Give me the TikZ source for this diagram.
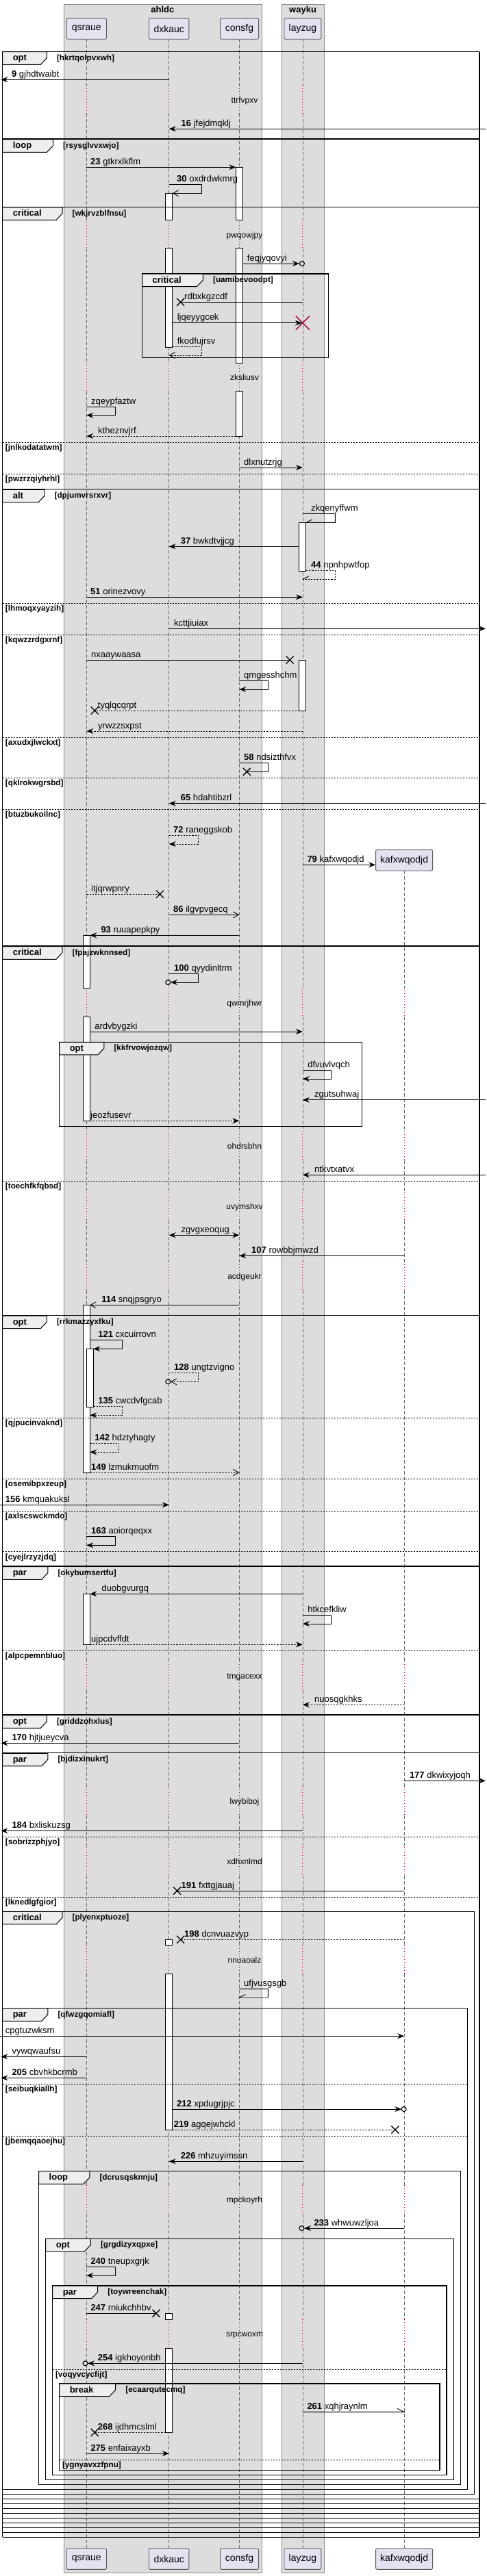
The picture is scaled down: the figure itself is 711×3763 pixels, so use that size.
\documentclass[tikz,border=0pt]{standalone}
\usepackage{fontspec}
\setmainfont{Liberation Sans}
\usetikzlibrary{arrows.meta}
\definecolor{grpbg}{HTML}{DDDDDD}
\definecolor{grpbd}{HTML}{8A8A8A}
\definecolor{partbg}{HTML}{E2E2F0}
\definecolor{partbd}{HTML}{5A5A5A}
\definecolor{delayc}{HTML}{A80036}
\definecolor{tabbg}{HTML}{EEEEEE}
\definecolor{lifec}{HTML}{6A6A6A}
\def\xq{126.3}\def\xd{246.7}\def\xc{349.3}\def\xl{441.9}\def\xk{590.1}
\tikzset{
  part/.style={draw=partbd, fill=partbg, line width=0.9pt, rounded corners=1.5pt, minimum height=30.6pt, inner sep=0pt, font=\fontsize{14}{16}\selectfont},
  msgl/.style={anchor=base west, inner sep=0pt, font=\fontsize{13}{15}\selectfont},
  condl/.style={anchor=base west, inner sep=0pt, font=\fontsize{11.7}{13}\selectfont\bfseries},
  tabl/.style={anchor=base west, inner sep=0pt, font=\fontsize{13}{15}\selectfont\bfseries},
  delayl/.style={anchor=base, inner sep=0pt, font=\fontsize{12}{14}\selectfont},
  plain/.style={line width=0.9pt},
  sync/.style={plain, -{Stealth[length=10pt,width=8pt,inset=3.5pt]}},
  ret/.style={sync, dash pattern=on 2.2pt off 2pt},
  opn/.style={plain, -{Straight Barb[length=8pt,width=9pt]}},
  dsh/.style={plain, dash pattern=on 2.2pt off 2pt},
  life/.style={lifec, line width=0.8pt, dash pattern=on 5pt off 3pt},
  dly/.style={delayc, line width=0.9pt, dash pattern=on 1pt off 3pt},
  act/.style={draw=black, fill=white, line width=0.9pt},
  frm/.style={line width=1.5pt},
  sep/.style={line width=0.8pt, dash pattern=on 2pt off 2pt},
}
\newcommand\xmark[2]{\draw[line width=1.3pt] (#1-5.5,#2-5.5) -- (#1+5.5,#2+5.5) (#1-5.5,#2+5.5) -- (#1+5.5,#2-5.5);}
\newcommand\omark[2]{\draw[line width=1.1pt] (#1,#2) circle[radius=3.5pt];}
\newcommand\grptab[5]{%
  \draw[line width=1pt, fill=tabbg] (#1,#2) -- (#3,#2) -- (#3,#2+9) -- (#3-9,#2+18.6) -- (#1,#2+18.6) -- cycle;
  \node[tabl] at (#1+15,#2+13) {#4};
  \node[condl] at (#3+14.5,#2+12.5) {#5};}
\newcommand\sepl[4]{% x0, x1, y, label
  \draw[sep] (#1,#3) -- (#2,#3);
  \node[condl] at (#1+4.2,#3+11.5) {#4};}
\begin{document}
\begin{tikzpicture}[x=1pt,y=-1pt]
\useasboundingbox (0,0) rectangle (711,3763);
% group boxes
\draw[grpbd, fill=grpbg] (93,6) rectangle (381.7,3758.3);
\draw[grpbd, fill=grpbg] (410.9,6) rectangle (473.4,3758.3);
\node[anchor=base, font=\fontsize{13}{15}\selectfont\bfseries] (tahldc) at (237.4,19) {ahldc};
\node[anchor=base, font=\fontsize{13}{15}\selectfont\bfseries] (twayku) at (442.1,19) {wayku};
% lifelines
\foreach \a/\b in {57.3/124.5, 166/321, 362.7/530, 571.7/1443.3, 1485/1653, 1695/1741, 1783/1843, 1885/2427, 2469/2610, 2652/2698, 2740/2841.7, 2883.3/3192, 3234/3388, 3430/3722.7}{
  \foreach \x in {\xq,\xd,\xc,\xl}{\draw[life] (\x,\a) -- (\x,\b);}}
\foreach \a/\b in {1272.3/1443.3, 1485/1653, 1695/1741, 1783/1843, 1885/2427, 2469/2610, 2652/2698, 2740/2841.7, 2883.3/3192, 3234/3388, 3430/3722.7}{
  \draw[life] (\xk,\a) -- (\xk,\b);}
\foreach \a/\b in {124.5/166, 321/362.7, 530/571.7}{
  \foreach \x in {\xq,\xd,\xc,\xl}{\draw[dly] (\x,\a) -- (\x,\b);}}
\foreach \a/\b in {1443.3/1485, 1653/1695, 1741/1783, 1843/1885, 2427/2469, 2610/2652, 2698/2740, 2841.7/2883.3, 3192/3234, 3388/3430}{
  \foreach \x in {\xq,\xd,\xc,\xl,\xk}{\draw[dly] (\x,\a) -- (\x,\b);}}
% delay texts
\node[delayl] (d1) at (357,150) {ttrfvpxv};
\node[delayl] (d2) at (357,347.3) {pwqowjpy};
\node[delayl] (d3) at (357,555) {zksliusv};
\node[delayl] (d4) at (357,1469.7) {qwmrjhwr};
\node[delayl] (d5) at (357,1678.3) {ohdrsbhn};
\node[delayl] (d6) at (357,1766.3) {uvymshxv};
\node[delayl] (d7) at (357,1868.3) {acdgeukr};
\node[delayl] (d8) at (357,2452.3) {tmgacexx};
\node[delayl] (d9) at (357,2635.3) {lwybiboj};
\node[delayl] (d10) at (357,2723.3) {xdhxnlmd};
\node[delayl] (d11) at (357,2867) {nnuaoalz};
\node[delayl] (d12) at (357,3217.3) {mpckoyrh};
\node[delayl] (d13) at (357,3413.3) {srpcwoxm};
% participants
\node[part, minimum width=58.4pt] (pq) at (\xq,42) {qsraue};
\node[part, minimum width=58.4pt] (pd) at (\xd,42) {dxkauc};
\node[part, minimum width=56.1pt] (pc) at (349.5,42) {consfg};
\node[part, minimum width=53.8pt] (pl) at (\xl,42) {layzug};
\node[part, minimum width=83pt] (pk) at (\xk,1256.7) {kafxwqodjd};
\node[part, minimum width=58.4pt] (bq) at (\xq,3738) {qsraue};
\node[part, minimum width=58.4pt] (bd) at (\xd,3738) {dxkauc};
\node[part, minimum width=56.1pt] (bc) at (349.5,3738) {consfg};
\node[part, minimum width=53.8pt] (bl) at (\xl,3738) {layzug};
\node[part, minimum width=83pt] (bk) at (\xk,3738) {kafxwqodjd};
% activations
\foreach \x/\a/\b in {\xc/244.3/321, \xc/362.7/530, \xc/571.7/637, \xd/282.3/321, \xd/362.7/507.3, \xl/763.3/834.3, \xl/964/1038, \xq/1366.3/1443.3, \xq/1485/1637.3, \xq/1906.3/2151, 131.3/1970.3/2055.3, \xq/2328.3/2402.3, \xd/2833.3/2841.7, \xd/2883.3/3111, \xd/3379.3/3388, \xd/3430/3553.3}{
  \draw[act] (\x-5,\a) rectangle (\x+5,\b);}
% ===== frames =====
\draw[frm] (3.6,75.7) -- (3.6,3706.3);
\draw[frm] (700,75.7) -- (700,3706.3);
\foreach \y in {75.7, 203, 302.3, 714.5, 1382, 1921.3, 2288, 2505, 2560.7, 3650.3, 3657.3, 3664.3, 3671.3, 3678.3, 3685.3, 3692.3, 3699.3, 3706.3}{
  \draw[frm] (3.6,\y) -- (700,\y);}
\draw[frm] (3.6,2792.3) rectangle (692.3,3643.3);
\draw[frm] (3.6,2933.7) rectangle (682.7,3636.3);
\draw[frm] (56.5,3171.7) rectangle (672.7,3629.3);
\draw[frm] (66.6,3270.3) rectangle (662.6,3622.3);
\draw[frm] (76.6,3339) rectangle (652.1,3615.3);
\draw[frm] (86.6,3482) rectangle (642,3608.7);
\draw[frm] (207.5,400) rectangle (479.3,522.3);
\draw[frm] (86.6,1522.3) rectangle (528.5,1645.3);
% separators
\sepl{3.6}{700}{646.3}{[jnlkodatatwm]}
\sepl{3.6}{700}{692.3}{[pwzrzqiyhrhl]}
\sepl{3.6}{700}{881.3}{[lhmoqxyayzih]}
\sepl{3.6}{700}{927}{[kqwzzrdgxrnf]}
\sepl{3.6}{700}{1077}{[axudxjlwckxt]}
\sepl{3.6}{700}{1136.3}{[qklrokwgrsbd]}
\sepl{3.6}{700}{1182.3}{[btuzbukoilnc]}
\sepl{3.6}{700}{1725}{[toechfkfqbsd]}
\sepl{3.6}{700}{2071.3}{[qjpucinvaknd]}
\sepl{3.6}{700}{2160}{[osemibpxzeup]}
\sepl{3.6}{700}{2207}{[axlscswckmdo]}
\sepl{3.6}{700}{2266.7}{[cyejlrzyzjdq]}
\sepl{3.6}{700}{2411.3}{[alpcpemnbluo]}
\sepl{3.6}{700}{2683}{[sobrizzphjyo]}
\sepl{3.6}{700}{2771.3}{[lknedlgfgior]}
\sepl{3.6}{682.7}{3044.3}{[seibuqkiallh]}
\sepl{3.6}{682.7}{3120.3}{[jbemqqaoejhu]}
\sepl{76.6}{652.1}{3461.3}{[voqyvcycfijt]}
\sepl{86.6}{642}{3593}{[ygnyavxzfpnu]}
% tabs
\grptab{3.6}{75.7}{68.4}{opt}{[hkrtqolpvxwh]}
\grptab{3.6}{203.7}{77.5}{loop}{[rsysglvvxwjo]}
\grptab{3.6}{302.8}{91}{critical}{[wkjrvzblfnsu]}
\grptab{207.5}{400}{296.4}{critical}{[uamibevoodpt]}
\grptab{3.6}{715.3}{65}{alt}{[dpjumvrsrxvr]}
\grptab{3.6}{1382.7}{91}{critical}{[fpajzwknnsed]}
\grptab{86.6}{1522.3}{151.9}{opt}{[kkfrvowjozqw]}
\grptab{3.6}{1922}{68.4}{opt}{[rrkmazzyxfku]}
\grptab{3.6}{2288.7}{69.8}{par}{[okybumsertfu]}
\grptab{3.6}{2505.7}{68.4}{opt}{[griddzohxlus]}
\grptab{3.6}{2561.3}{69.8}{par}{[bjdizxinukrt]}
\grptab{3.6}{2792.3}{91}{critical}{[plyenxptuoze]}
\grptab{3.6}{2933.7}{69.8}{par}{[qfwzgqomiafl]}
\grptab{56.5}{3171.7}{130.9}{loop}{[dcrusqsknnju]}
\grptab{66.6}{3270.3}{132.3}{opt}{[grgdizyxqpxe]}
\grptab{76.6}{3339}{142.7}{par}{[toywreenchak]}
\grptab{86.6}{3482}{168.7}{break}{[ecaarqutecmq]}
% ===== messages =====
\draw[sync] (\xd,116.3) -- (1.4,116.3);
\node[msgl] (m9) at (16.9,112.3) {\textbf{9} gjhdtwaibt};
\draw[sync] (709,188.3) -- (\xd,188.3);
\node[msgl] (m16) at (264.5,184.3) {\textbf{16} jfejdmqklj};
\draw[sync] (\xq,244.3) -- (\xc-5,244.3);
\node[msgl] (m23) at (132,240.3) {\textbf{23} gtkrxlkflm};
\draw[opn] (\xd,269.3) -- (294,269.3) -- (294,282.3) -- (\xd+5,282.3);
\node[msgl] (m30) at (258,265.3) {\textbf{30} oxdrdwkmrg};
\draw[sync] (\xc+5,385) -- (437,385); \omark{441}{385}
\node[msgl] (ma) at (360.7,381) {feqjyqovyi};
\draw[plain] (\xl,441.3) -- (263.6,441.3); \xmark{263.6}{441.3}
\node[msgl] (mb) at (269,437.3) {rdbxkgzcdf};
\draw[sync] (\xd+5,471.7) -- (\xl-1,471.7);
\draw[delayc, line width=1.4pt] (\xl-10,461.7) -- (\xl+10,481.7) (\xl-10,481.7) -- (\xl+10,461.7);
\node[msgl] (mc) at (258.6,467.7) {ljqeyygcek};
\draw[opn, dash pattern=on 2.2pt off 2pt] (\xd+5,506.3) -- (294,506.3) -- (294,519) -- (\xd,519);
\node[msgl] (md) at (258.6,502.3) {fkodfujrsv};
\draw[sync] (\xq,594.3) -- (168.3,594.3) -- (168.3,606.7) -- (\xq,606.7);
\node[msgl] (me) at (133,590.3) {zqeypfaztw};
\draw[ret] (\xc-5,637) -- (\xq,637);
\node[msgl] (mf) at (143,633) {ktheznvjrf};
\draw[sync] (\xc,683) -- (\xl,683);
\node[msgl] (mg) at (356,679) {dlxnutzrjg};
\draw[plain] (\xl,750.3) -- (489.3,750.3) -- (489.3,763.3) -- (\xl+5,763.3) -- ++(9,-4.5);
\node[msgl] (mh) at (454,746.3) {zkqenyffwm};
\draw[sync] (\xl-5,798.3) -- (\xd,798.3);
\node[msgl] (m37) at (263.6,794.3) {\textbf{37} bwkdtvjjcg};
\draw[dsh] (\xl+5,833.7) -- (489.3,833.7) -- (489.3,846.3) -- (\xl,846.3);
\draw[plain] (\xl,846.3) -- ++(9,-4.5);
\node[msgl] (m44) at (454,829.7) {\textbf{44} npnhpwtfop};
\draw[sync] (\xq,872.3) -- (\xl,872.3);
\node[msgl] (m51) at (132,868.3) {\textbf{51} orinezvovy};
\draw[sync] (\xd,918.3) -- (709,918.3);
\node[msgl] (mi) at (254,914.3) {kcttjiuiax};
\draw[plain] (\xq,964) -- (423.2,964); \xmark{423.2}{964}
\node[msgl] (mj) at (133,960) {nxaaywaasa};
\draw[sync] (\xc,994.3) -- (391.3,994.3) -- (391.3,1007) -- (\xc,1007);
\node[msgl] (mk) at (356,990.3) {qmgesshchm};
\draw[dsh] (\xl-5,1038) -- (138.2,1038); \xmark{138.2}{1038}
\node[msgl] (ml) at (142.7,1034) {tyqlqcqrpt};
\draw[ret] (\xl,1068) -- (\xq,1068);
\node[msgl] (mm) at (143,1064) {yrwzzsxpst};
\draw[plain] (\xc,1114.3) -- (391.3,1114.3) -- (391.3,1127.3) -- (360.3,1127.3); \xmark{360.3}{1127.3}
\node[msgl] (m58) at (356,1110.3) {\textbf{58} ndsizthfvx};
\draw[sync] (709,1173.7) -- (\xd,1173.7);
\node[msgl] (m65) at (263.6,1169.7) {\textbf{65} hdahtibzrl};
\draw[ret] (\xd,1220.3) -- (289,1220.3) -- (289,1233) -- (\xd,1233);
\node[msgl] (m72) at (253,1216.3) {\textbf{72} raneggskob};
\draw[sync] (\xl,1263.3) -- (pk.west |- 0,1263.3);
\node[msgl] (m79) at (448.3,1259.3) {\textbf{79} kafxwqodjd};
\draw[dsh] (\xq,1306.3) -- (233.5,1306.3); \xmark{233.5}{1306.3}
\node[msgl] (mn) at (133,1302.3) {itjqrwpnry};
\draw[opn] (\xd,1336.3) -- (\xc,1336.3);
\node[msgl] (m86) at (253,1332.3) {\textbf{86} ilgvpvgecq};
\draw[sync] (\xc,1366.3) -- (\xq+5,1366.3);
\node[msgl] (m93) at (147.3,1362.3) {\textbf{93} ruuapepkpy};
\draw[sync] (\xd,1422.3) -- (289,1422.3) -- (289,1435) -- (249,1435); \omark{245.3}{1435}
\node[msgl] (m100) at (254,1418.3) {\textbf{100} qyydinltrm};
\draw[sync] (\xq+5,1507) -- (\xl,1507);
\node[msgl] (mo) at (138.2,1503) {ardvbygzki};
\draw[sync] (\xl,1563.3) -- (483.8,1563.3) -- (483.8,1576) -- (\xl,1576);
\node[msgl] (mp) at (449.2,1559.3) {dfvuvlvqch};
\draw[sync] (709,1606.7) -- (\xl,1606.7);
\node[msgl] (mq) at (459,1602.7) {zgutsuhwaj};
\draw[ret] (\xq+5,1637.3) -- (\xc,1637.3);
\node[msgl] (mr) at (132,1633.3) {jeozfusevr};
\draw[sync] (709,1716.3) -- (\xl,1716.3);
\node[msgl] (ms) at (459,1712.3) {ntkvtxatvx};
\draw[plain, {Stealth[length=10pt,width=8pt,inset=3.5pt]}-{Stealth[length=10pt,width=8pt,inset=3.5pt]}] (\xd,1804.3) -- (\xc,1804.3);
\node[msgl] (mt) at (264.5,1800.3) {zgvgxeoqug};
\draw[sync] (\xk,1834.3) -- (\xc,1834.3);
\node[msgl] (m107) at (367,1830.3) {\textbf{107} rowbbjmwzd};
\draw[opn] (\xc,1906.3) -- (\xq+5,1906.3);
\node[msgl] (m114) at (148.2,1902.3) {\textbf{114} snqjpsgryo};
\draw[sync] (\xq+5,1957.7) -- (178.3,1957.7) -- (178.3,1970.3) -- (\xq+10,1970.3);
\node[msgl] (m121) at (143.2,1953.7) {\textbf{121} cxcuirrovn};
\draw[opn, dash pattern=on 2.2pt off 2pt] (\xd,2005.3) -- (289,2005.3) -- (289,2018.3) -- (249,2018.3); \omark{245.3}{2018.3}
\node[msgl] (m128) at (254,2001.3) {\textbf{128} ungtzvigno};
\draw[ret] (\xq+10,2054.7) -- (178.3,2054.7) -- (178.3,2067.3) -- (\xq+5,2067.3);
\node[msgl] (m135) at (143.2,2050.7) {\textbf{135} cwcdvfgcab};
\draw[ret] (\xq+5,2108.3) -- (173.7,2108.3) -- (173.7,2121.3) -- (\xq+5,2121.3);
\node[msgl] (m142) at (138.2,2104.3) {\textbf{142} hdztyhagty};
\draw[opn, dash pattern=on 2.2pt off 2pt] (\xq+5,2151) -- (\xc,2151);
\node[msgl] (m149) at (133,2147) {\textbf{149} lzmukmuofm};
\draw[sync] (0,2198.3) -- (\xd,2198.3);
\node[msgl] (m156) at (7.8,2194.3) {\textbf{156} kmquakuksl};
\draw[sync] (\xq,2244.7) -- (168.3,2244.7) -- (168.3,2257.3) -- (\xq,2257.3);
\node[msgl] (m163) at (133,2240.7) {\textbf{163} aoiorqeqxx};
\draw[sync] (\xl,2328.3) -- (\xq+5,2328.3);
\node[msgl] (mu) at (148.2,2324.3) {duobgvurgq};
\draw[sync] (\xl,2359.3) -- (483.8,2359.3) -- (483.8,2372) -- (\xl,2372);
\node[msgl] (mv) at (449.2,2355.3) {htkcefkliw};
\draw[ret] (\xq+5,2402.3) -- (\xl,2402.3);
\node[msgl] (mw) at (133,2398.3) {ujpcdvffdt};
\draw[ret] (\xk,2490.3) -- (\xl,2490.3);
\node[msgl] (mx) at (459,2486.3) {nuosqgkhks};
\draw[sync] (\xc,2546.3) -- (1.4,2546.3);
\node[msgl] (m170) at (17.3,2542.3) {\textbf{170} hjtjueycva};
\draw[sync] (\xk,2601.3) -- (709,2601.3);
\node[msgl] (m177) at (597.8,2597.3) {\textbf{177} dkwixyjoqh};
\draw[sync] (\xl,2674.3) -- (1.4,2674.3);
\node[msgl] (m184) at (17.3,2670.3) {\textbf{184} bxliskuzsg};
\draw[plain] (\xk,2762) -- (258.6,2762); \xmark{258.6}{2762}
\node[msgl] (m191) at (264.5,2758) {\textbf{191} fxttgjauaj};
\draw[dsh] (\xk,2833.3) -- (263.6,2833.3); \xmark{263.6}{2833.3}
\node[msgl] (m198) at (269,2829.3) {\textbf{198} dcnvuazvyp};
\draw[plain] (\xc,2905.3) -- (391.3,2905.3) -- (391.3,2918) -- (\xc,2918) -- ++(9,-4.5);
\node[msgl] (my) at (356,2901.3) {ufjvusgsgb};
\draw[sync] (0,2974.3) -- (\xk,2974.3);
\node[msgl] (mz) at (7.8,2970.3) {cpgtuzwksm};
\draw[sync] (\xq,3004.3) -- (1.4,3004.3);
\node[msgl] (maa) at (17.3,3000.3) {vywqwaufsu};
\draw[sync] (\xq,3035.3) -- (1.4,3035.3);
\node[msgl] (m205) at (17.3,3031.3) {\textbf{205} cbvhkbcrmb};
\draw[sync] (\xd+5,3081) -- (586.3,3081); \omark{589.7}{3081}
\node[msgl] (m212) at (258,3077) {\textbf{212} xpdugrjpjc};
\draw[dsh] (\xd+5,3111) -- (576.9,3111); \xmark{576.9}{3111}
\node[msgl] (m219) at (253.6,3107) {\textbf{219} agqejwhckl};
\draw[sync] (\xl,3157.3) -- (\xd,3157.3);
\node[msgl] (m226) at (263.6,3153.3) {\textbf{226} mhzuyimssn};
\draw[sync] (\xk,3255) -- (444,3255); \omark{440.5}{3255}
\node[msgl] (m233) at (458.3,3251) {\textbf{233} whwuwzljoa};
\draw[sync] (\xq,3311.3) -- (168.3,3311.3) -- (168.3,3324) -- (\xq,3324);
\node[msgl] (m240) at (132.3,3307.3) {\textbf{240} tneupxgrjk};
\draw[plain] (\xq,3379.3) -- (228,3379.3); \xmark{228}{3379.3}
\node[msgl] (m247) at (132.3,3375.3) {\textbf{247} rniukchhbv};
\draw[sync] (\xl,3452.3) -- (128,3452.3); \omark{124.5}{3452.3}
\node[msgl] (m254) at (142.7,3448.3) {\textbf{254} igkhoyonbh};
\draw[plain] (\xl,3523.3) -- (\xk,3523.3) -- ++(-10,-5);
\node[msgl] (m261) at (448.3,3519.3) {\textbf{261} xqhjraynlm};
\draw[dsh] (\xd-5,3553.3) -- (138.2,3553.3); \xmark{138.2}{3553.3}
\node[msgl] (m268) at (142.7,3549.3) {\textbf{268} ijdhmcslml};
\draw[sync] (\xq,3584) -- (\xd,3584);
\node[msgl] (m275) at (132.3,3580) {\textbf{275} enfaixayxb};
\end{tikzpicture}
\end{document}
